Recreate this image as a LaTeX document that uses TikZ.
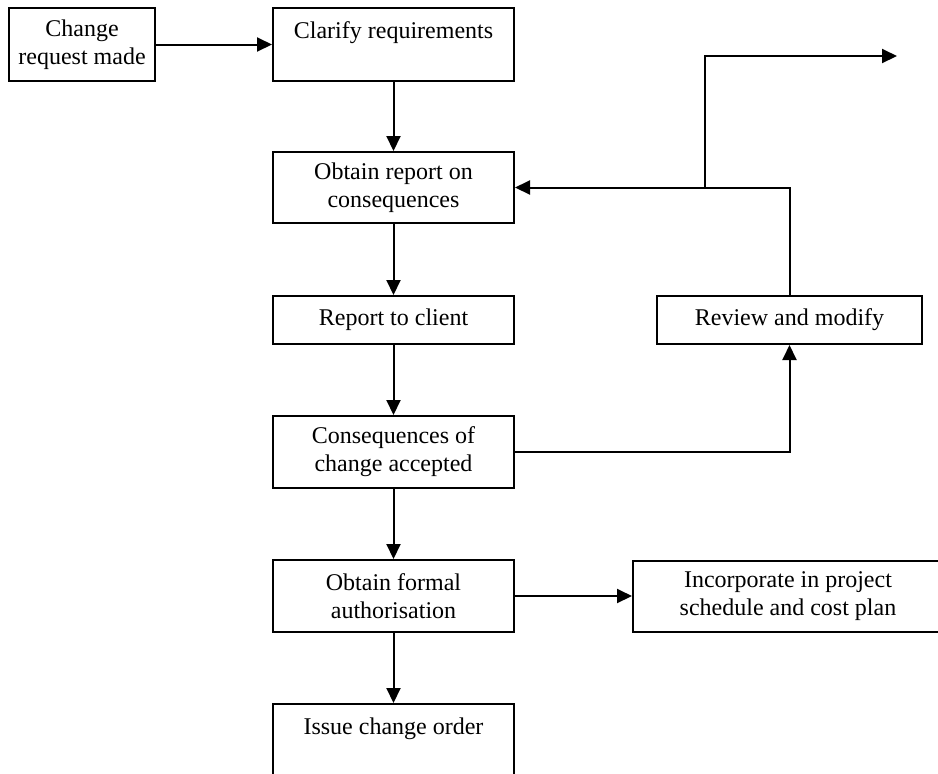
\documentclass[tikz,border=0pt]{standalone}
\usepackage{fontspec}
\setmainfont{Liberation Serif}
\usetikzlibrary{arrows.meta}
\begin{document}
\begin{tikzpicture}[x=0.5pt,y=-0.5pt,
  box/.style={draw, line width=1pt, inner sep=0pt, align=center,
    font=\fontsize{12}{14}\selectfont},
  flow/.style={line width=1pt, -{Triangle[length=7.5pt,width=7pt]}}]
\useasboundingbox (0,0) rectangle (938,773);

% process boxes
\node[box, minimum width=73pt, minimum height=36.5pt] (req) at (82,44.5) {Change\\request made};
\node[box, minimum width=120.5pt, minimum height=36.5pt] (clar) at (393.5,44.5) {Clarify requirements\\~};
\node[box, minimum width=120.5pt, minimum height=35.5pt] (obt) at (393.5,187.5) {Obtain report on\\consequences};
\node[box, minimum width=120.5pt, minimum height=24pt] (rep) at (393.5,320) {Report to client};
\node[box, minimum width=120.5pt, minimum height=36pt] (acc) at (393.5,452) {Consequences of\\change accepted};
\node[box, minimum width=120.5pt, minimum height=36pt] (auth) at (393.5,596) {Obtain formal\\authorisation};
\node[box, minimum width=120.5pt, minimum height=36pt] (issue) at (393.5,740) {Issue change order\\~};
\node[box, minimum width=132.5pt, minimum height=24pt] (rev) at (789.5,320) {Review and modify};
\node[box, minimum width=155pt, minimum height=35.5pt] (inc) at (788,596.5) {Incorporate in project\\schedule and cost plan};

% free ends of the onward branch
\coordinate (fork) at (705,188);
\coordinate (onward) at (897,56);

% connectors
\draw[flow] (req.east) -- (clar.west |- req.east);
\draw[flow] (clar.south) -- (obt.north);
\draw[flow] (obt.south) -- (rep.north);
\draw[flow] (rep.south) -- (acc.north);
\draw[flow] (acc.south) -- (auth.north);
\draw[flow] (auth.south) -- (issue.north);
\draw[flow] (auth.east) -- (inc.west |- auth.east);
\draw[flow] (acc.east) -| (rev.south);
\draw[flow] (rev.north) |- (obt.east);
\draw[flow] (fork |- obt.east) |- (onward);
\end{tikzpicture}
\end{document}
